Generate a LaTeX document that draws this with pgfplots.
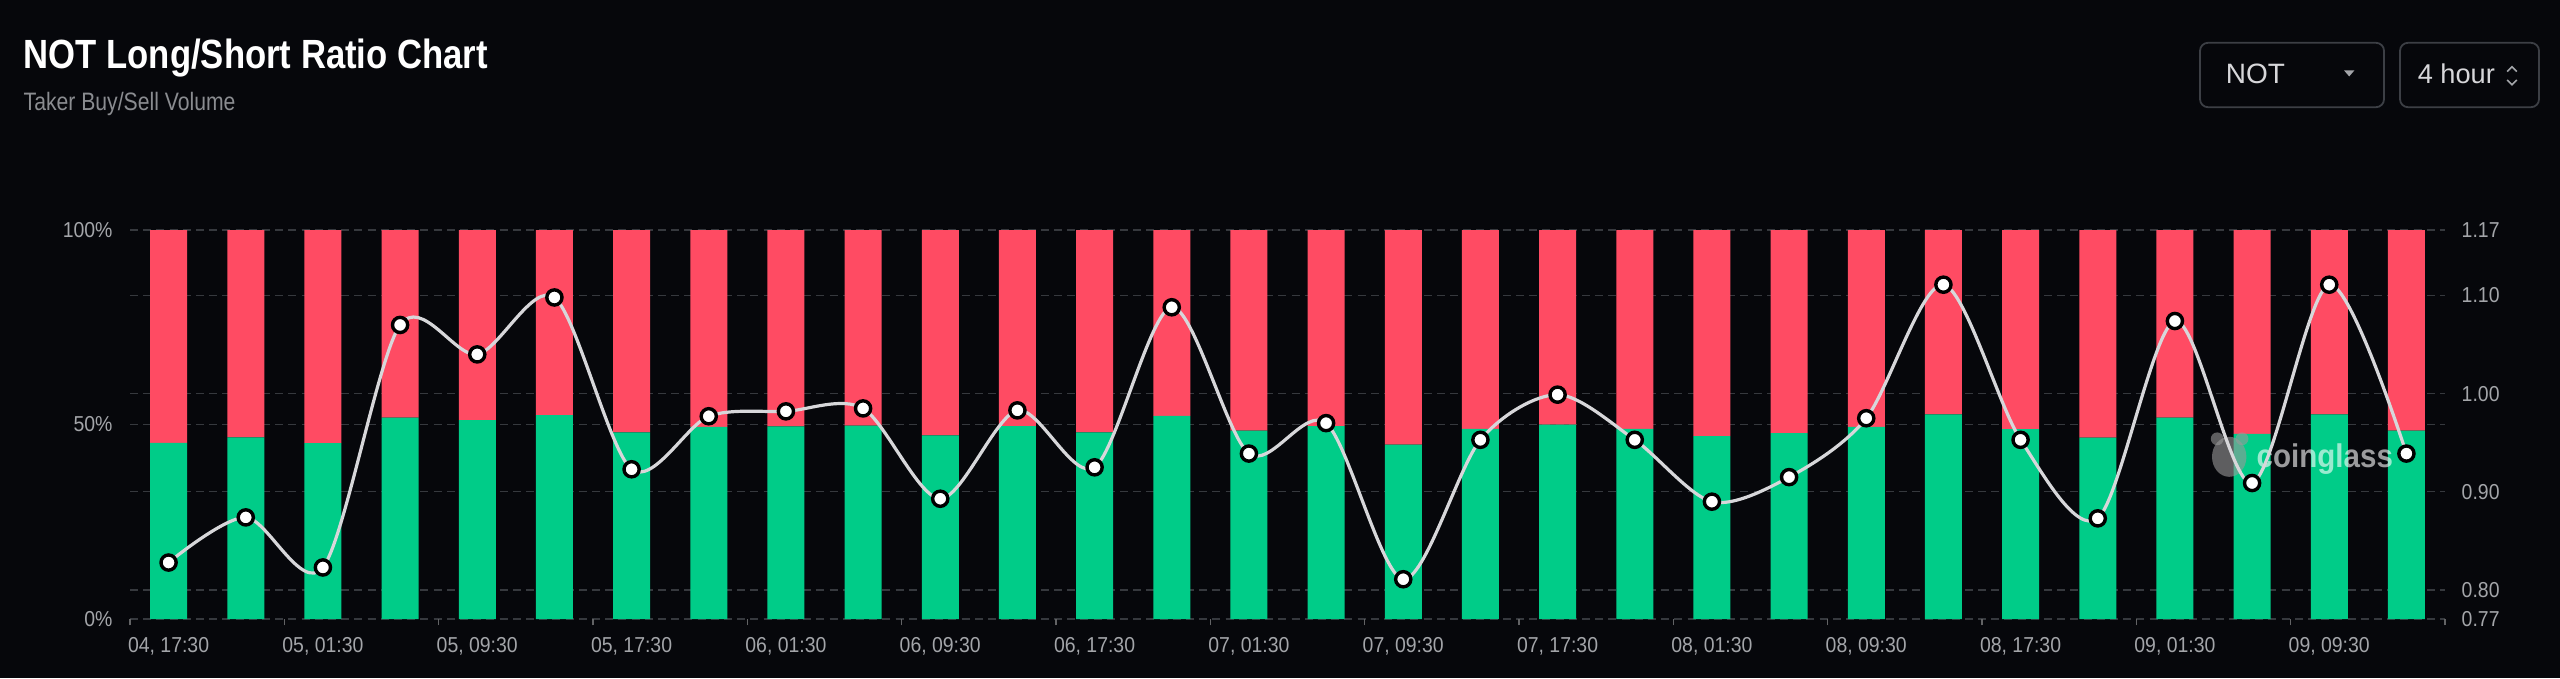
\documentclass[border=0pt]{standalone}
\usepackage{fontspec}
\setmainfont{Liberation Sans}
\usepackage{pgfplots}
\usepackage{pgfplotstable}
\pgfplotsset{compat=1.18}

\definecolor{bg}{RGB}{6,7,11}
\definecolor{longc}{RGB}{0,204,136}
\definecolor{shortc}{RGB}{255,75,99}
\definecolor{gridc}{RGB}{54,57,62}
\definecolor{tickc}{RGB}{163,165,169}
\definecolor{linec}{RGB}{215,215,218}
\definecolor{boxc}{RGB}{60,63,69}

\pgfplotstableread{
x g s r
0 45.3 54.7 0.828
1 46.7 53.3 0.874
2 45.2 54.8 0.823
3 51.8 48.2 1.070
4 51.1 48.9 1.040
5 52.4 47.6 1.098
6 48.0 52.0 0.923
7 49.4 50.6 0.977
8 49.5 50.5 0.982
9 49.7 50.3 0.985
10 47.2 52.8 0.893
11 49.6 50.4 0.983
12 48.0 52.0 0.925
13 52.2 47.8 1.088
14 48.4 51.6 0.939
15 49.6 50.4 0.970
16 44.8 55.2 0.811
17 48.9 51.1 0.953
18 50.0 50.0 0.999
19 48.9 51.1 0.953
20 47.0 53.0 0.890
21 47.8 52.2 0.915
22 49.4 50.6 0.975
23 52.6 47.4 1.111
24 48.8 51.2 0.953
25 46.6 53.4 0.873
26 51.8 48.2 1.074
27 47.6 52.4 0.909
28 52.6 47.4 1.111
29 48.4 51.6 0.939
}\data

\newcommand\tickfont{\fontsize{5.4pt}{6pt}\selectfont}

\pgfplotsset{
  common/.style={
    at={(32.5pt,14.75pt)}, anchor=south west,
    scale only axis, width=578.75pt, height=97.25pt,
    xmin=-0.5, xmax=29.5,
    axis line style={draw=none},
    major tick length=0pt,
    grid style={gridc, line width=0.3pt, dash pattern=on 2pt off 1.3pt},
  }
}

\begin{document}
\begin{tikzpicture}
\useasboundingbox (0,0) rectangle (640pt,169.5pt);
\fill[bg] (0,0) rectangle (640pt,169.5pt);

% title
\node[anchor=base west, inner sep=0pt, text=white, xscale=0.85,
      font=\fontsize{10.2pt}{12pt}\selectfont\bfseries] at (5.75pt,152.4pt) {NOT Long/Short Ratio Chart};
\node[anchor=base west, inner sep=0pt, text=tickc!85!black, xscale=0.84,
      font=\fontsize{6.3pt}{7pt}\selectfont] at (5.75pt,141.8pt) {Taker Buy/Sell Volume};

% dropdowns
\draw[boxc, line width=0.45pt, rounded corners=2pt] (550pt,142.7pt) rectangle (596pt,158.8pt);
\node[anchor=base west, inner sep=0pt, text=linec, font=\fontsize{7pt}{8pt}\selectfont] at (556.25pt,148.6pt) {NOT};
\fill[tickc] (586pt,151.9pt) -- (588.6pt,151.9pt) -- (587.3pt,150.4pt) -- cycle;
\draw[boxc, line width=0.45pt, rounded corners=2pt] (600pt,142.7pt) rectangle (634.75pt,158.8pt);
\node[anchor=base west, inner sep=0pt, text=linec, font=\fontsize{6.8pt}{8pt}\selectfont] at (604.25pt,148.6pt) {4 hour};
\draw[tickc, line width=0.4pt] (626.8pt,151.6pt) -- (628pt,152.8pt) -- (629.2pt,151.6pt);
\draw[tickc, line width=0.4pt] (626.8pt,149.5pt) -- (628pt,148.3pt) -- (629.2pt,149.5pt);

% grid of the ratio axis
\begin{axis}[common,
  ymin=0.7705, ymax=1.1667,
  xtick=\empty,
  ytick={0.7705,0.8,0.9,1.0,1.1,1.1667}, yticklabels={},
  ymajorgrids]
\addplot[draw=none] coordinates {(0,0.9)};
\end{axis}

% stacked bars
\begin{axis}[common,
  ymin=0, ymax=100,
  ybar stacked, bar width=9.25pt,
  xtick={0,2,...,28},
  xticklabels={{04, 17:30},{05, 01:30},{05, 09:30},{05, 17:30},{06, 01:30},{06, 09:30},{06, 17:30},{07, 01:30},{07, 09:30},{07, 17:30},{08, 01:30},{08, 09:30},{08, 17:30},{09, 01:30},{09, 09:30}},
  minor xtick={-0.5,1.5,...,29.5},
  xtick pos=bottom, xtick align=outside,
  minor tick length=1.6pt,
  minor tick style={tickc!60!black, line width=0.3pt},
  ytick={0,50,100}, yticklabels={0\%,50\%,100\%},
  ytick pos=left,
  ymajorgrids,
  xticklabel style={anchor=north, inner sep=0pt, yshift=-4.5pt, text=tickc, font=\tickfont, xscale=0.9},
  yticklabel style={anchor=east, inner sep=0pt, xshift=-4.2pt, text=tickc, font=\tickfont, xscale=0.9},
]
\addplot[fill=longc, draw=none] table[x=x, y=g] {\data};
\addplot[fill=shortc, draw=none] table[x=x, y=s] {\data};
\end{axis}

% watermark
\begin{scope}[opacity=0.6]
\fill[gray!80] (557.3pt,55.3pt) ellipse (4.3pt and 5pt);
\fill[gray!80] (554.3pt,59.8pt) circle (1.6pt);
\fill[gray!80] (560.5pt,59.8pt) circle (1.6pt);
\node[anchor=base west, inner sep=0pt, text=white, xscale=0.9,
      font=\fontsize{8.2pt}{9pt}\selectfont\bfseries] at (564pt,52.6pt) {coinglass};
\end{scope}

% ratio line
\begin{axis}[common,
  ymin=0.7705, ymax=1.1667,
  xtick=\empty,
  ytick={0.7705,0.8,0.9,1.0,1.1,1.1667},
  yticklabels={0.77,0.80,0.90,1.00,1.10,1.17},
  ytick pos=right, yticklabel pos=right,
  yticklabel style={anchor=west, inner sep=0pt, xshift=4pt, text=tickc, font=\tickfont, xscale=0.9},
  clip=false]
\addplot[linec, line width=0.8pt, smooth, tension=0.5,
  mark=*, mark size=1.9pt, mark options={fill=white, draw=black, line width=0.85pt}]
  table[x=x, y=r] {\data};
\end{axis}
\end{tikzpicture}
\end{document}
